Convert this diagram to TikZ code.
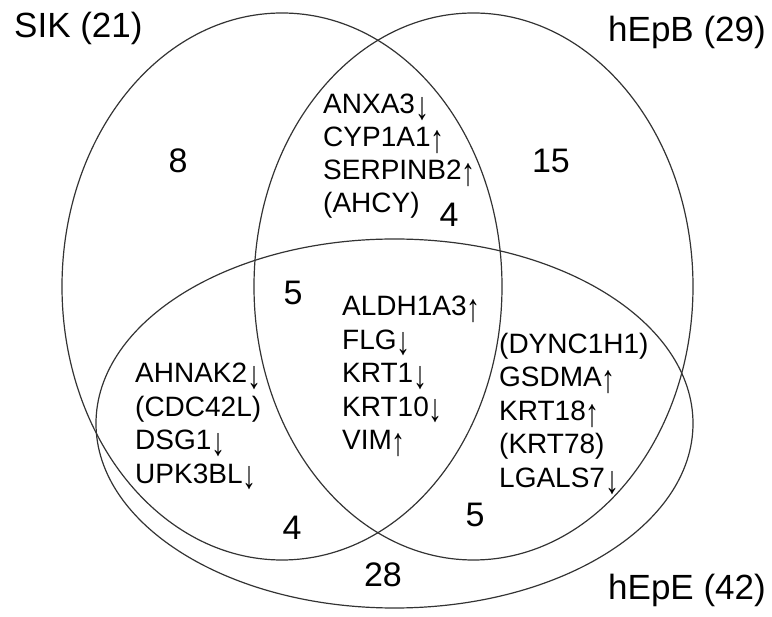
\documentclass[tikz,border=0pt]{standalone}
\usepackage{fontspec}
\setmainfont{Liberation Sans}
\newcommand{\arrdn}{\raisebox{-0.2em}{\scalebox{1}[1.4]{↓}}}
\newcommand{\arrup}{\raisebox{-0.2em}{\scalebox{1}[1.4]{↑}}}
\begin{document}
\begin{tikzpicture}[x=1pt,y=-1pt,
  setline/.style={draw=black!80, line width=1.2pt},
  setlabel/.style={font=\fontsize{35}{40}\selectfont, inner sep=0pt},
  countlabel/.style={font=\fontsize{34}{40}\selectfont, inner sep=0pt, anchor=base},
  genelist/.style={font=\fontsize{28}{33.5}\selectfont, align=left, inner sep=0pt, anchor=north west},
  toplist/.style={genelist, font=\fontsize{28}{33}\selectfont}]
\useasboundingbox (0,0) rectangle (772,617);
% sets
\draw[setline] (282,286.5) ellipse [x radius=220pt, y radius=273.5pt];
\draw[setline] (473.5,286.5) ellipse [x radius=219.5pt, y radius=273.5pt];
\draw[setline] (394.5,423.5) ellipse [x radius=298.5pt, y radius=184.5pt];
% set labels
\node[setlabel, anchor=base west] (sik) at (14,38) {SIK (21)};
\node[setlabel, anchor=base east] (hepb) at (766,42) {hEpB (29)};
\node[setlabel, anchor=base east] (hepe) at (766,600) {hEpE (42)};
% counts
\node[countlabel] (n8) at (178,173) {8};
\node[countlabel] (n15) at (551,173) {15};
\node[countlabel] (n4a) at (449,227) {4};
\node[countlabel] (n5a) at (293,305) {5};
\node[countlabel] (n4b) at (292,540) {4};
\node[countlabel] (n5b) at (475,527) {5};
\node[countlabel] (n28) at (383,587) {28};
% gene lists
\node[toplist] (gtop) at (323,94) {ANXA3\arrdn\\CYP1A1\arrup\\SERPINB2\arrup\\(AHCY)};
\node[genelist] (gmid) at (342,296) {ALDH1A3\arrup\\FLG\arrdn\\KRT1\arrdn\\KRT10\arrdn\\VIM\arrup};
\node[genelist] (gleft) at (135,363) {AHNAK2\arrdn\\(CDC42L)\\DSG1\arrdn\\UPK3BL\arrdn};
\node[genelist] (gright) at (499,333) {(DYNC1H1)\\GSDMA\arrup\\KRT18\arrup\\(KRT78)\\LGALS7\arrdn};
\end{tikzpicture}
\end{document}
